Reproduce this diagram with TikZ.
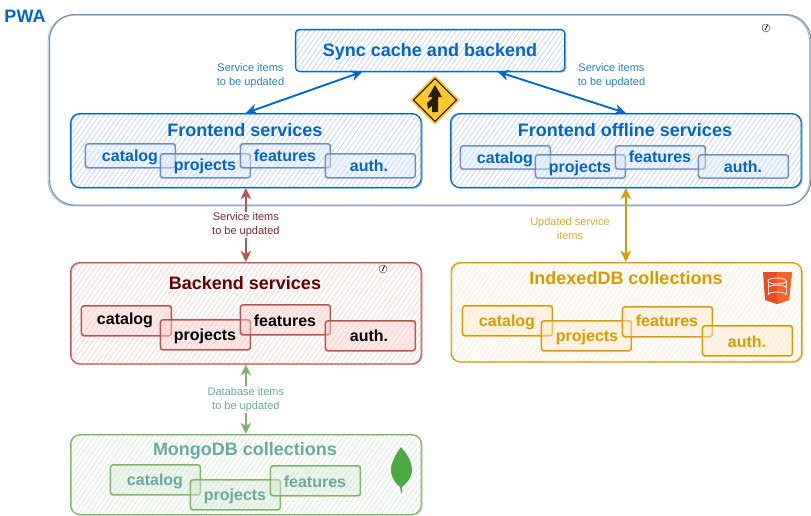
\documentclass[tikz,border=0pt]{standalone}
\usepackage{fontspec}
\setmainfont{Liberation Sans}
\definecolor{deepblue}{RGB}{0,102,204}
\definecolor{steelblue}{RGB}{108,142,191}
\definecolor{lightblue}{RGB}{218,232,252}
\definecolor{deepred}{RGB}{184,84,80}
\definecolor{darkred}{RGB}{102,0,0}
\definecolor{lightred}{RGB}{248,206,204}
\definecolor{deepamber}{RGB}{215,155,0}
\definecolor{lightamber}{RGB}{255,230,204}
\definecolor{deepmoss}{RGB}{130,179,102}
\definecolor{lightmoss}{RGB}{213,232,212}
\definecolor{tealtext}{RGB}{103,171,159}
\definecolor{signyellow}{RGB}{255,199,44}
\definecolor{leafgreen}{RGB}{77,169,68}
\definecolor{shieldleft}{RGB}{228,77,38}
\definecolor{shieldright}{RGB}{241,101,41}
\usetikzlibrary{arrows.meta, patterns.meta, calc}
\begin{document}
\begin{tikzpicture}[
        x=0.75pt, y=-0.75pt,
        sketch/.style={postaction={draw, opacity=0.55, transform canvas={shift={(#1,-0.5pt)}}}},
        sketch/.default=0.6pt,
        hatch/.style={pattern={Lines[angle=55, distance=3pt, line width=0.5pt]}, pattern color=#1},
        panel/.style={draw, sketch, rounded corners=7pt, line width=0.8pt, minimum width=263pt, inner sep=0pt, anchor=north west},
        item/.style={draw, sketch=-0.5pt, rounded corners=2pt, line width=0.9pt, minimum width=67.5pt, inner sep=0pt, anchor=north west},
        itemtext/.style={font=\bfseries\fontsize{12}{12}\selectfont, yshift=-1pt},
        title/.style={font=\bfseries\fontsize{13.5}{13.5}\selectfont, yshift=-1pt},
        note/.style={font=\fontsize{8.25}{10.5}\selectfont, align=center},
        arr/.style={{Stealth[length=8.5pt, width=8pt]}-{Stealth[length=8.5pt, width=8pt]}, line width=1.4pt}
      ]
        \useasboundingbox (0,0) rectangle (811,515);
        % pwa container
        \node[draw=steelblue, sketch=-1pt, rounded corners=19pt, line width=0.8pt, minimum width=571pt, minimum height=143pt, inner sep=0pt, anchor=north west] (pwa) at (49,14) {};
        \node[title, text=deepblue] (pwalabel) at (25,15) {PWA};
        % sync
        \node[panel, draw=deepblue, hatch=lightblue!75!steelblue, minimum width=202pt, minimum height=31.5pt, rounded corners=3pt] (sync) at (295,29) {};
        \node[title, text=deepblue] (synctitle) at (430,51) {Sync cache and backend};
        % frontend
        \node[panel, draw=deepblue, hatch=lightblue!75!steelblue, minimum height=55.5pt] (front) at (70,113) {};
        \node[title, text=deepblue] (fronttitle) at (245,129) {Frontend services};
        \foreach \name/\word/\bx/\by/\lx/\ly in {fcat/catalog/85/143/130/156, fpro/projects/160/153/205/165, ffea/features/240/143/285/154, faut/auth./325/153/369/164} {
          \node[item, draw=steelblue, fill=lightblue, fill opacity=0.45, minimum height=18pt] (\name) at (\bx,\by) {};
          \node[itemtext, text=deepblue] (\name text) at (\lx,\ly) {\word};
        }
        % frontend offline
        \node[panel, draw=deepblue, hatch=lightblue!75!steelblue, minimum height=55.5pt] (offline) at (450,113) {};
        \node[title, text=deepblue] (offlinetitle) at (625,129) {Frontend offline services};
        \foreach \name/\word/\bx/\by/\lx/\ly in {ocat/catalog/460/145/505/158, opro/projects/535/154/580/167, ofea/features/615/145/660/155, oaut/auth./698/154/743/165} {
          \node[item, draw=steelblue, fill=lightblue, fill opacity=0.45, minimum height=17.5pt] (\name) at (\bx,\by) {};
          \node[itemtext, text=deepblue] (\name text) at (\lx,\ly) {\word};
        }
        % backend
        \node[panel, draw=deepred, hatch=lightred, minimum height=76pt] (back) at (70,262) {};
        \node[title, text=darkred] (backtitle) at (245,282) {Backend services};
        \foreach \name/\word/\bx/\by/\lx/\ly in {bcat/catalog/81/305/125/319, bpro/projects/160/319/205/335, bfea/features/240/304/285/319, baut/auth./325/320/369/334} {
          \node[item, draw=deepred, fill=lightred, fill opacity=0.45, minimum height=22.5pt] (\name) at (\bx,\by) {};
          \node[itemtext, text=black] (\name text) at (\lx,\ly) {\word};
        }
        % indexeddb
        \node[panel, draw=deepamber, hatch=lightamber, minimum height=74.5pt] (idb) at (450.5,262) {};
        \node[title, text=deepamber] (idbtitle) at (626,277) {IndexedDB collections};
        \foreach \name/\word/\bx/\by/\lx/\ly in {icat/catalog/462/305/507/321, ipro/projects/541/320/587/336, ifea/features/622/306/667/319.5, iaut/auth./702/325/747/340} {
          \node[item, draw=deepamber, fill=lightamber, fill opacity=0.45, minimum height=22.5pt] (\name) at (\bx,\by) {};
          \node[itemtext, text=deepamber] (\name text) at (\lx,\ly) {\word};
        }
        % mongodb
        \node[panel, draw=deepmoss, hatch=lightmoss, minimum height=60pt] (mongo) at (70,434) {};
        \node[title, text=tealtext] (mongotitle) at (245,450) {MongoDB collections};
        \foreach \name/\word/\bx/\by/\lx/\ly in {mcat/catalog/110/464/155/480, mpro/projects/190/479/235/495, mfea/features/270/465/315/480} {
          \node[item, draw=deepmoss, fill=lightmoss, fill opacity=0.45, minimum height=22.5pt] (\name) at (\bx,\by) {};
          \node[itemtext, text=tealtext] (\name text) at (\lx,\ly) {\word};
        }
        % connectors
        \draw[arr, deepblue] ($(sync.south west)!.25!(sync.south east)$) -- (front.north);
        \draw[arr, deepblue] ($(sync.south west)!.75!(sync.south east)$) -- (offline.north);
        \draw[arr, deepred] (front.south) -- (back.north) node[midway, fill=white, note, text=darkred!85, inner sep=1pt] (backnote) {Service items\\to be updated};
        \draw[arr, deepamber] (offline.south) -- (offline.south |- idb.north);
        \draw[arr, deepmoss] (back.south) -- (mongo.north) node[midway, fill=white, note, text=tealtext, inner sep=1pt] (mongonote) {Database items\\to be updated};
        \node[note, text=deepblue!85] (leftnote) at (250.5,76) {Service items\\to be updated};
        \node[note, text=deepblue!85] (rightnote) at (611.5,76) {Service items\\to be updated};
        \node[note, text=deepamber!85] (idbnote) at (570,229) {Updated service\\items};
        % merge sign
        \filldraw[signyellow, line join=round, line width=1pt] (435,76) -- (459,100) -- (435,124) -- (411,100) -- cycle;
        \draw[black, line width=0.7pt, line join=round] (435,78.5) -- (456.5,100) -- (435,121.5) -- (413.5,100) -- cycle;
        \fill[black!85!signyellow] (435,85) -- (442,97) -- (438,97) -- (438,112) -- (432,112) -- (432,106) -- (428,109) -- (427,103) -- (432,98.5) -- (432,97) -- (428,97) -- cycle;
        % storage icon
        \fill[shieldleft] (763,272) -- (792,272) -- (789,300) -- (777,304) -- (765,300) -- cycle;
        \fill[shieldright] (777,272) -- (792,272) -- (789,300) -- (777,304) -- cycle;
        \foreach \ay in {288,295} {
          \draw[white!85!shieldleft, line width=0.7pt] (768,\ay) arc[start angle=180, end angle=360, x radius=9, y radius=3];
        }
        \draw[white!85!shieldleft, line width=0.7pt] (777,281) ellipse[x radius=9, y radius=3];
        \draw[white!85!shieldleft, line width=0.7pt] (768,281) -- (768,295) (786,281) -- (786,295);
        % mongo leaf
        \fill[leafgreen] (401,447) .. controls (408,455) and (412,463) .. (412,470) .. controls (412,478) and (406,484) .. (402,487) -- (402,493) -- (401,493) -- (400,487) .. controls (396,484) and (391,478) .. (391,470) .. controls (391,463) and (395,455) .. (401,447) -- cycle;
        % small clocks
        \foreach \cx/\cy in {766/28, 383/269} {
          \draw[black!70, fill=white, line width=0.35pt] (\cx,\cy) circle[radius=4];
          \draw[black, line width=0.6pt] (\cx,\cy) -- +(1.5,-3);
          \draw[black, line width=0.6pt] (\cx,\cy) -- +(-0.5,2);
        }
      \end{tikzpicture}
\end{document}
